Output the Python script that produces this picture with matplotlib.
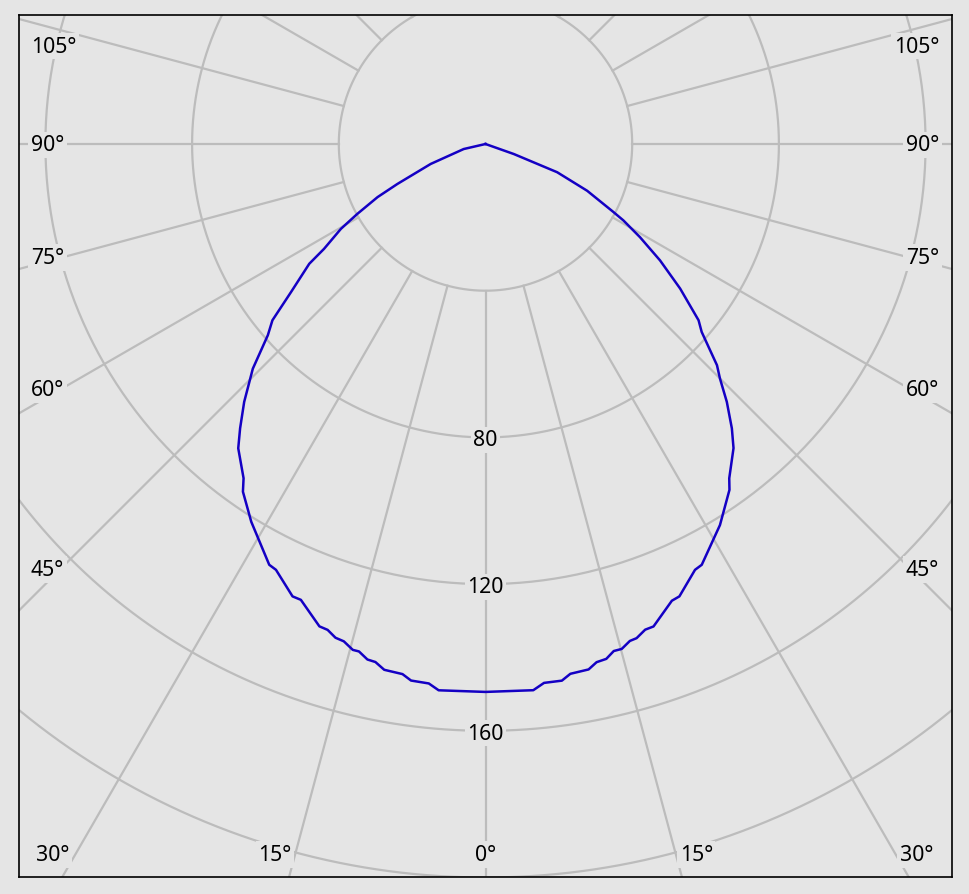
import numpy as np
import matplotlib
matplotlib.use("Agg")
import matplotlib.pyplot as plt

# ---- data (angle in degrees from nadir, luminous intensity) ----
angles_left = [0, 4.9, 6.0, 7.9, 8.9, 10.9, 12.0, 12.9, 14.0, 14.7, 15.9, 16.9, 18.0, 19.0,
               22.05, 23.1, 26.2, 27.2, 31.8, 34.9, 35.9, 39.1, 40.8, 43.1, 46.0, 48.7,
               50.4, 52.7, 55.8, 57.0, 59.6, 61.4, 63.8, 65.6, 70.0, 77.0, 90]
values_left = [149.4, 149.5, 147.9, 147.7, 146.3, 146.0, 144.4, 144.2, 142.6, 142.6, 141.0,
               140.7, 139.3, 139.1, 134.1, 134.1, 129.4, 129.0, 121.2, 115.6, 112.5, 106.9,
               102.4, 96.3, 88.2, 79.0, 75.4, 66.7, 58.1, 52.5, 45.7, 39.8, 32.8, 26.4,
               15.9, 6.1, 0]
angles_right = [0, 5.0, 6.2, 8.1, 9.1, 11.1, 12.1, 13.2, 14.2, 15.1, 16.2, 17.0, 18.2, 19.2,
                22.2, 23.2, 26.2, 27.2, 31.6, 35.2, 36.1, 39.2, 40.9, 43.1, 45.0, 46.3,
                49.0, 50.4, 53.4, 56.3, 58.9, 61.0, 62.0, 65.3, 68.5, 70.5, 90]
values_right = [149.4, 149.5, 147.8, 147.8, 146.3, 146.0, 144.5, 144.2, 142.6, 142.6, 141.1,
                140.9, 139.4, 139.3, 134.5, 134.2, 129.4, 129.0, 122.0, 115.4, 112.8, 107.0,
                102.6, 96.3, 90.4, 87.3, 78.1, 75.4, 66.1, 57.2, 49.2, 43.0, 39.5, 30.5,
                21.0, 8.2, 0]

ring_values = [40, 80, 120, 160, 200]
ring_labels = ["80", "120", "160"]
spoke_angles = list(range(0, 360, 15))
side_labels = ["105°", "90°", "75°", "60°", "45°"]
bottom_labels = ["30°", "15°", "0°", "15°", "30°"]

# ---- style / layout ----
BG = "#e5e5e5"
GRID = "#bcbcbc"
CURVE = "#1400c4"
W, H = 969, 895
FONT = "Noto Sans"
FS = 15.3

fig = plt.figure(figsize=(W / 100, H / 100), dpi=100, facecolor=BG)
ax = fig.add_axes([19 / W, 1 - 878 / H, (952 - 19) / W, (878 - 16) / H])
ax.set_facecolor(BG)
scale = 146.7 / 40.0  # px per unit
cx, cy = 485.5, 145.0
ax.set_xlim((19 - cx) / scale, (952 - cx) / scale)
ax.set_ylim((cy - 878) / scale, (cy - 16) / scale)
ax.set_xticks([])
ax.set_yticks([])
for s in ax.spines.values():
    s.set_color("black")
    s.set_linewidth(1.2)

# grid circles
t = np.linspace(0, 2 * np.pi, 721)
for r in ring_values:
    ax.plot(r * np.sin(t), r * np.cos(t), color=GRID, lw=1.6, zorder=1)
# spokes
for a in spoke_angles:
    ar = np.radians(a)
    ax.plot([40 * np.sin(ar), 400 * np.sin(ar)], [-40 * np.cos(ar), -400 * np.cos(ar)],
            color=GRID, lw=1.6, zorder=1)

# curve
al = np.radians(angles_left)[::-1]
vl = np.array(values_left)[::-1]
ar_ = np.radians(angles_right)
vr = np.array(values_right)
x = np.concatenate([-vl * np.sin(al), vr * np.sin(ar_)])
y = np.concatenate([-vl * np.cos(al), -vr * np.cos(ar_)])
ax.plot(x, y, color=CURVE, lw=1.8, zorder=4, solid_joinstyle="round")

bbox = dict(boxstyle="square,pad=0.12", facecolor=BG, edgecolor="none")

# ring labels on 0° spoke
for lab in ring_labels:
    v = float(lab)
    ax.text(0, -v, lab, ha="center", va="center_baseline", fontsize=FS, family=FONT,
            bbox=bbox, zorder=3)

def fig_text(px, py, s, ha):
    fig.text(px / W, 1 - py / H, s, ha=ha, va="center_baseline", fontsize=FS, family=FONT,
             bbox=bbox, zorder=3)

side_y = [44.7, 143.3, 256, 388, 568]
for lab, py in zip(side_labels, side_y):
    fig_text(31, py, lab, "left")
    fig_text(939, py, lab, "right")
bottom_x = [53, 275, 485.8, 696.3, 916.7]
for lab, px in zip(bottom_labels, bottom_x):
    fig_text(px, 853, lab, "center")

fig.savefig("out.png", dpi=100, facecolor=BG)
